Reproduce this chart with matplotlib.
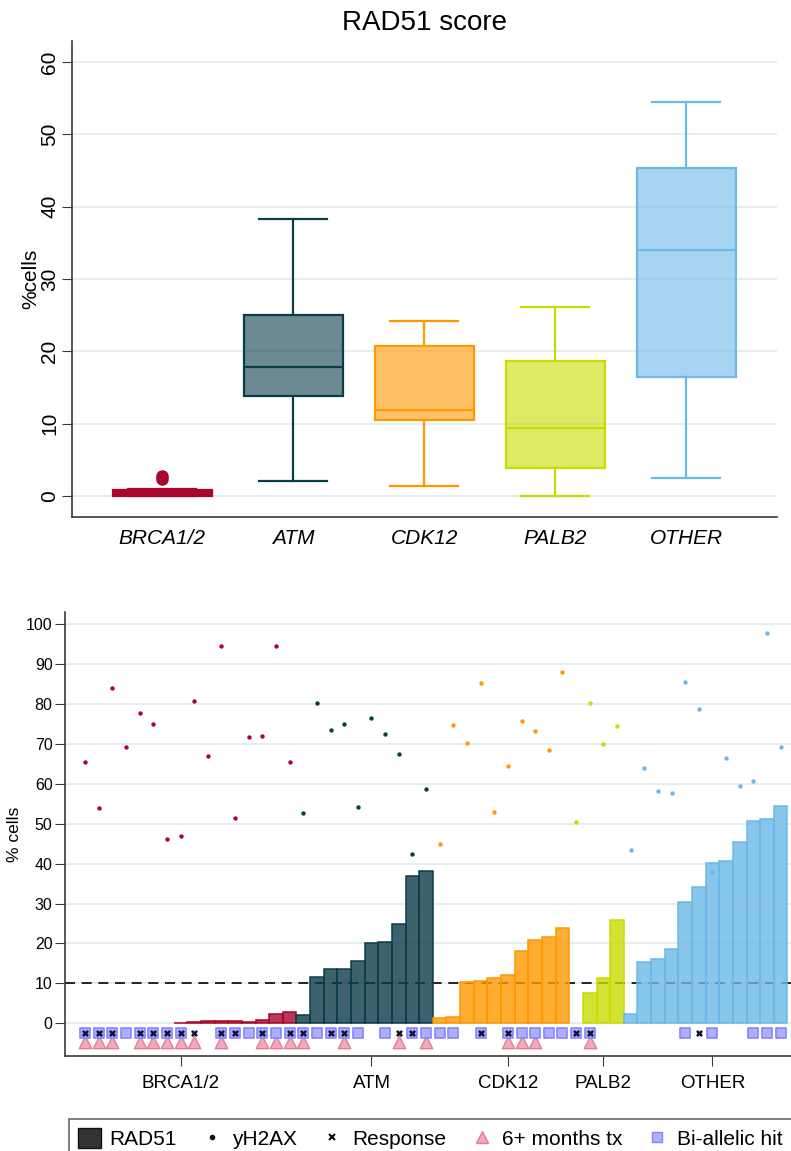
import matplotlib
matplotlib.use("Agg")
import matplotlib.pyplot as plt
from matplotlib.patches import Patch
from matplotlib.lines import Line2D

plt.rcParams["font.family"] = ["Liberation Sans", "DejaVu Sans"]

# ── Genes and palette ────────────────────────────────────────────────────────
GENES = ["BRCA1/2", "ATM", "CDK12", "PALB2", "OTHER"]
EDGE = ["#A8062C", "#0B3C49", "#FF9900", "#C8DC00", "#6CB8E6"]
BOX_ALPHA = 0.6
BAR_ALPHA = 0.8
GRID = "#E4EDEF"
SPINE = "#3a3a3a"

# ── Box summaries (%cells RAD51) ─────────────────────────────────────────────
box_whislo = [0.0, 2.07, 1.34, 0.0, 2.45]
box_q1 = [0.0, 13.8, 10.55, 3.83, 16.4]
box_med = [0.2, 17.9, 11.85, 9.45, 34.0]
box_q3 = [0.8, 25.0, 20.7, 18.7, 45.3]
box_whishi = [0.95, 38.3, 24.2, 26.2, 54.5]
box_fliers = [[2.4, 2.8], [], [], [], []]

# ── Per-patient values, ordered by gene then RAD51 ───────────────────────────
brca_rad51 = [0, 0, 0, 0, 0, 0, 0, 0.1, 0.3, 0.5, 0.5, 0.6, 0.4, 0.8, 2.4, 2.8]
brca_yh2ax = [65.4, 53.9, 84.1, 69.1, 77.7, 75.0, 46.2, 46.9,
              80.7, 67.0, 94.5, 51.5, 71.7, 71.9, 94.4, 65.5]
atm_rad51 = [2.0, 11.7, 13.6, 13.7, 15.7, 20.0, 20.4, 25.0, 36.8, 38.2]
atm_yh2ax = [52.8, 80.3, 73.5, 75.0, 54.3, 76.6, 72.5, 67.5, 42.4, 58.7]
cdk12_rad51 = [1.3, 1.6, 10.4, 10.6, 11.4, 12.1, 18.1, 20.9, 21.7, 24.0]
cdk12_yh2ax = [45.0, 74.8, 70.3, 85.3, 52.9, 64.5, 75.8, 73.3, 68.4, 87.9]
palb2_rad51 = [0.0, 7.5, 11.3, 26.0]
palb2_yh2ax = [50.4, 80.3, 70.0, 74.4]
other_rad51 = [2.4, 15.3, 16.2, 18.5, 30.4, 34.1, 40.2, 40.6, 45.3, 50.8, 51.2, 54.5]
other_yh2ax = [43.3, 64.0, 58.3, 57.7, 85.4, 78.8, 37.8, 66.5, 59.4, 60.6, 97.9, 69.1]

rad51_by_gene = [brca_rad51, atm_rad51, cdk12_rad51, palb2_rad51, other_rad51]
yh2ax_by_gene = [brca_yh2ax, atm_yh2ax, cdk12_yh2ax, palb2_yh2ax, other_yh2ax]

# patient slots carrying each annotation
biallelic_idx = [0, 1, 2, 3, 4, 5, 6, 7, 10, 11, 12, 13, 14, 15, 16, 17, 18, 19, 20,
                 22, 24, 25, 26, 27, 29, 31, 32, 33, 34, 35, 36, 37, 44, 46, 49, 50, 51]
response_idx = [0, 1, 2, 4, 5, 6, 7, 8, 10, 11, 13, 15, 16, 18, 19, 23, 24, 29, 31,
                36, 37, 45]
months6_idx = [0, 1, 2, 4, 5, 6, 7, 8, 10, 13, 14, 15, 16, 19, 23, 25, 31, 32, 33, 37]
gene_tick_slots = [7, 21, 31, 38, 46]

fig = plt.figure(figsize=(7.91, 11.51), dpi=100)

# ── Top: box plot ────────────────────────────────────────────────────────────
ax1 = fig.add_axes([0.0906, 0.5511, 0.8913, 0.4133])
stats = []
for i, g in enumerate(GENES):
    stats.append(dict(label=g, whislo=box_whislo[i], q1=box_q1[i], med=box_med[i],
                      q3=box_q3[i], whishi=box_whishi[i], fliers=box_fliers[i]))
parts = ax1.bxp(stats, positions=range(len(GENES)), widths=0.755, capwidths=0.52,
                patch_artist=True, showfliers=True, zorder=3)
for i, col in enumerate(EDGE):
    parts["boxes"][i].set(facecolor=matplotlib.colors.to_rgba(col, BOX_ALPHA),
                          edgecolor=col, linewidth=1.6)
    parts["medians"][i].set(color=col, linewidth=1.6)
    for ln in parts["whiskers"][2 * i:2 * i + 2] + parts["caps"][2 * i:2 * i + 2]:
        ln.set(color=col, linewidth=1.6)
    parts["fliers"][i].set(marker="o", markerfacecolor=col, markeredgecolor=col,
                           markersize=8)
# the BRCA box is nearly flat, draw it solid
parts["boxes"][0].set_facecolor(EDGE[0])

ax1.set_xlim(-0.69, 4.69)
ax1.set_ylim(-2.86, 62.93)
ax1.set_yticks(range(0, 61, 10))
ax1.set_xticks(range(len(GENES)))
ax1.set_xticklabels(GENES, fontstyle="italic", fontsize=15)
ax1.tick_params(axis="x", length=0, pad=9)
ax1.tick_params(axis="y", labelsize=15, labelrotation=90, length=7, pad=2,
                color=SPINE)
for lbl in ax1.get_yticklabels():
    lbl.set_va("center")
ax1.grid(axis="y", color=GRID, linewidth=1.5, zorder=0)
ax1.set_axisbelow(True)
ax1.set_ylabel("%cells", fontsize=15, labelpad=0)
ax1.set_title("RAD51 score", fontsize=20, pad=8)
for side in ("top", "right"):
    ax1.spines[side].set_visible(False)
for side in ("left", "bottom"):
    ax1.spines[side].set_color(SPINE)
    ax1.spines[side].set_linewidth(1.2)

# ── Bottom: per-patient waterfall ────────────────────────────────────────────
ax2 = fig.add_axes([0.0822, 0.0825, 1 - 0.0822, 0.386])
start = 0
for i, col in enumerate(EDGE):
    vals = rad51_by_gene[i]
    xs = list(range(start, start + len(vals)))
    ax2.scatter(xs, yh2ax_by_gene[i], s=10, color=col, zorder=2, linewidths=0)
    # zero-height bars get no outline so nothing shows on the baseline
    widths_lw = [1.1 if v > 0 else 0 for v in vals]
    ax2.bar(xs, vals, width=1.0, color=matplotlib.colors.to_rgba(col, BAR_ALPHA),
            edgecolor=col, linewidth=widths_lw, zorder=3)
    start += len(vals)

ax2.axhline(10, color="black", linestyle=(0, (6, 4)), linewidth=1.2, zorder=2.5)

ax2.scatter(months6_idx, [-4.8] * len(months6_idx), marker="^", s=80,
            facecolor="#F2A9BA", edgecolor="#E0809A", linewidths=1, zorder=4)
ax2.scatter(biallelic_idx, [-2.35] * len(biallelic_idx), marker="s", s=50,
            facecolor="#AFAFFF", edgecolor="#8585FF", linewidths=1.2, zorder=5)
ax2.scatter(response_idx, [-2.35] * len(response_idx), marker="x", s=14,
            color="#111133", linewidths=1.8, zorder=6)

ax2.set_xlim(-1.47, 51.76)
ax2.set_ylim(-8.2, 103.1)
ax2.set_yticks(range(0, 101, 10))
ax2.set_xticks(gene_tick_slots)
ax2.set_xticklabels(GENES, fontsize=13.5)
ax2.tick_params(axis="x", length=7, pad=7, color=SPINE)
ax2.tick_params(axis="y", labelsize=11.5, length=7, pad=2, color=SPINE)
ax2.grid(axis="y", color=GRID, linewidth=1.5, zorder=0)
ax2.set_axisbelow(True)
ax2.set_ylabel("% cells", fontsize=12.5, labelpad=3)
for side in ("top", "right"):
    ax2.spines[side].set_visible(False)
for side in ("left", "bottom"):
    ax2.spines[side].set_color(SPINE)
    ax2.spines[side].set_linewidth(1.2)

# ── Legend ───────────────────────────────────────────────────────────────────
handles = [
    Patch(facecolor="#333333", edgecolor="#111111"),
    Line2D([], [], linestyle="none", marker="o", markersize=3, color="#111111"),
    Line2D([], [], linestyle="none", marker="x", markersize=4, markeredgewidth=1.5,
           color="#111111"),
    Line2D([], [], linestyle="none", marker="^", markersize=9,
           markerfacecolor="#F2A9BA", markeredgecolor="#E0809A"),
    Line2D([], [], linestyle="none", marker="s", markersize=7,
           markerfacecolor="#AFAFFF", markeredgecolor="#8585FF"),
]
labels = ["RAD51", "yH2AX", "Response", "6+ months tx", "Bi-allelic hit"]
leg = fig.legend(handles, labels, loc="upper left", ncol=5,
                 bbox_to_anchor=(69 / 791, 1 - 1119 / 1151), borderaxespad=0,
                 fontsize=15, frameon=True, fancybox=False, edgecolor="#444444",
                 handlelength=1.1, handleheight=1.1, handletextpad=0.4,
                 columnspacing=1.15, borderpad=0.45)
leg.get_frame().set_linewidth(1.2)

fig.savefig("out.png", dpi=100)
